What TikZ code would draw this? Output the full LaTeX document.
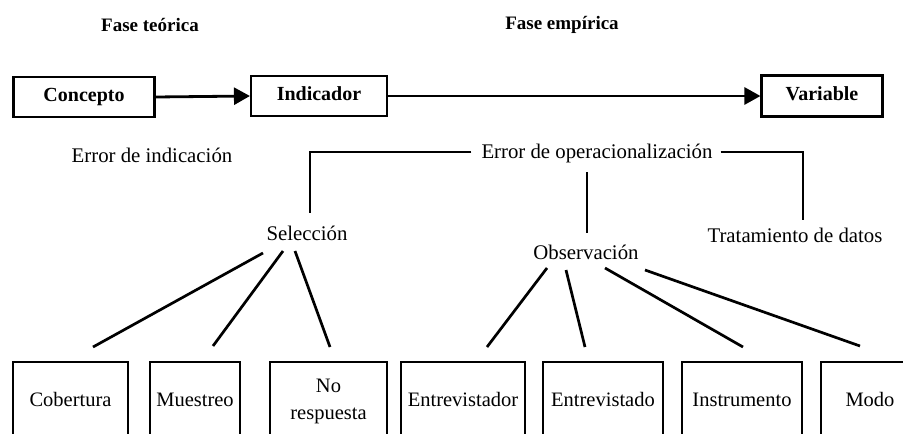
\documentclass[tikz,border=0pt]{standalone}
\usepackage{fontspec}
\setmainfont{Liberation Serif}
\usetikzlibrary{arrows.meta}
\begin{document}
\begin{tikzpicture}[x=1pt,y=-1pt,
  lbl/.style={font=\fontsize{20.8}{25}\selectfont, inner sep=0pt},
  blbl/.style={font=\bfseries\fontsize{19}{23}\selectfont, inner sep=0pt},
  topbox/.style={draw, line width=2.1pt, font=\bfseries\fontsize{20}{24}\selectfont, inner sep=0pt,
                 text height=14pt, text depth=4.5pt},
  botbox/.style={draw, line width=2.1pt, font=\fontsize{20.5}{27}\selectfont, anchor=north,
                 minimum height=78pt, align=center, inner sep=0pt},
  oneline/.style={text height=14.5pt, text depth=4.5pt},
  link/.style={line width=2.7pt},
  arr/.style={line width=2.8pt, -{Triangle[length=16pt,width=17pt]}},
  brk/.style={line width=1.9pt}]
\useasboundingbox (0,0) rectangle (903,434);
\clip (0,0) rectangle (903,434);

% phase labels
\node[blbl] (ft) at (150,25) {Fase teórica};
\node[blbl] (fe) at (562,25) {Fase empírica};

% top row
\node[topbox, minimum width=141pt, minimum height=40pt] (con) at (84,97) {Concepto};
\node[topbox, minimum width=136pt, minimum height=40pt] (ind) at (319,96) {Indicador};
\node[topbox, minimum width=121pt, minimum height=41pt] (var) at (822,96) {Variable};
\draw[arr] (con.east) -- (ind.west);
\draw[arr] (ind.east) -- (var.west);

% error labels
\node[lbl] (ei) at (152,155) {Error de indicación};
\node[lbl] (eo) at (597,153) {Error de operacionalización};

% middle level
\node[lbl] (sel) at (307,233) {Selección};
\node[lbl] (obs) at (586,252) {Observación};
\node[lbl] (tra) at (795,235) {Tratamiento de datos};

% bracket
\coordinate (lb) at (310,213);
\coordinate (rb) at (803,220);
\coordinate (ct) at (587,172);
\coordinate (cb) at (587,233);
\draw[brk] ([xshift=-10pt,yshift=1pt]eo.west) -| (lb);
\draw[brk] ([xshift=8pt,yshift=1pt]eo.east) -| (rb);
\draw[brk] (ct) -- (cb);

% bottom boxes
\node[botbox, oneline, minimum width=115pt] (cob) at (70.5,361) {Cobertura};
\node[botbox, oneline, minimum width=90pt] (mue) at (195,361) {Muestreo};
\node[botbox, minimum width=117pt] (nor) at (328.5,361) {No\\respuesta};
\node[botbox, oneline, minimum width=124pt] (eor) at (463,361) {Entrevistador};
\node[botbox, oneline, minimum width=120pt] (eoo) at (603,361) {Entrevistado};
\node[botbox, oneline, minimum width=120pt] (ins) at (742,361) {Instrumento};
\node[botbox, oneline, minimum width=98pt] (mod) at (870,361) {Modo};

% connectors from Selección
\coordinate (s1) at (263,253); \coordinate (c1) at (93,347);
\coordinate (s2) at (283,251); \coordinate (c2) at (213,346);
\coordinate (s3) at (295,251); \coordinate (c3) at (330,347);
\draw[link] (s1) -- (c1);
\draw[link] (s2) -- (c2);
\draw[link] (s3) -- (c3);

% connectors from Observación
\coordinate (o1) at (547,268); \coordinate (d1) at (487,347);
\coordinate (o2) at (566,270); \coordinate (d2) at (585,347);
\coordinate (o3) at (605,268); \coordinate (d3) at (743,347);
\coordinate (o4) at (645,270); \coordinate (d4) at (860,346);
\draw[link] (o1) -- (d1);
\draw[link] (o2) -- (d2);
\draw[link] (o3) -- (d3);
\draw[link] (o4) -- (d4);
\end{tikzpicture}
\end{document}
